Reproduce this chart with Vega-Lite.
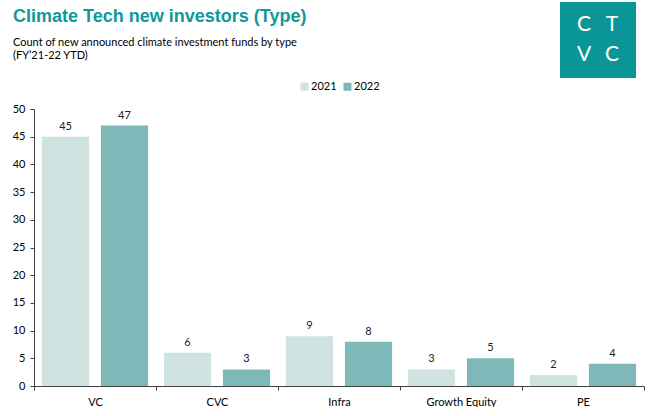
{
  "$schema": "https://vega.github.io/schema/vega-lite/v6.json",
  "padding": {"left": 12, "top": 2, "right": 0, "bottom": 0},
  "background": "white",
  "spacing": 3,
  "resolve": {"scale": {"color": "independent"}, "legend": {"color": "independent"}},
  "vconcat": [
    {
      "spacing": 0,
      "hconcat": [
        {
          "width": 526,
          "height": 6,
          "data": {"values": []},
          "mark": {"type": "point"},
          "title": {
            "text": "Climate Tech new investors (Type)",
            "subtitle": ["Count of new announced climate investment funds by type", "(FY’21-22 YTD)"],
            "orient": "bottom",
            "anchor": "start",
            "offset": 0,
            "dx": -21,
            "font": "Liberation Sans",
            "fontSize": 18,
            "fontWeight": "bold",
            "color": "#0d9a98",
            "subtitleFont": "Lato",
            "subtitleFontSize": 11,
            "subtitleColor": "#000000",
            "subtitleLineHeight": 13,
            "subtitlePadding": 11
          }
        },
        {
          "width": 76,
          "height": 76,
          "view": {"fill": "#0a9696", "stroke": null},
          "data": {"values": [
            {"letter": "C", "col": "1", "row": "1"},
            {"letter": "T", "col": "2", "row": "1"},
            {"letter": "V", "col": "1", "row": "2"},
            {"letter": "C", "col": "2", "row": "2"}
          ]},
          "mark": {"type": "text", "font": "Lato", "fontSize": 21, "fontWeight": 400, "color": "white", "baseline": "middle", "align": "center"},
          "encoding": {
            "x": {"field": "col", "type": "ordinal", "axis": null, "scale": {"type": "point", "padding": 0.857}},
            "y": {"field": "row", "type": "ordinal", "axis": null, "scale": {"type": "point", "padding": 0.77}},
            "text": {"field": "letter"}
          }
        }
      ]
    },
    {
      "width": 610,
      "height": 277,
      "data": {"values": [
        {"type": "VC", "year": "2021", "count": 45},
        {"type": "VC", "year": "2022", "count": 47},
        {"type": "CVC", "year": "2021", "count": 6},
        {"type": "CVC", "year": "2022", "count": 3},
        {"type": "Infra", "year": "2021", "count": 9},
        {"type": "Infra", "year": "2022", "count": 8},
        {"type": "Growth Equity", "year": "2021", "count": 3},
        {"type": "Growth Equity", "year": "2022", "count": 5},
        {"type": "PE", "year": "2021", "count": 2},
        {"type": "PE", "year": "2022", "count": 4}
      ]},
      "encoding": {
        "x": {
          "field": "type", "type": "nominal",
          "sort": ["VC", "CVC", "Infra", "Growth Equity", "PE"],
          "scale": {"paddingInner": 0, "paddingOuter": 0},
          "axis": {
            "title": null, "labelAngle": 0, "tickBand": "extent",
            "domainColor": "#404040", "tickColor": "#404040", "tickSize": 4,
            "labelFont": "Lato", "labelFontSize": 11, "labelColor": "#000000", "labelPadding": 6
          }
        },
        "xOffset": {"field": "year", "type": "nominal", "scale": {"paddingInner": 0.2, "paddingOuter": 0.134}},
        "y": {
          "field": "count", "type": "quantitative",
          "scale": {"domain": [0, 50], "nice": false},
          "axis": {
            "title": null, "grid": false, "values": [0, 5, 10, 15, 20, 25, 30, 35, 40, 45, 50],
            "domainColor": "#404040", "tickColor": "#404040", "tickSize": 4,
            "labelFont": "Lato", "labelFontSize": 11, "labelColor": "#000000", "labelPadding": 5
          }
        }
      },
      "layer": [
        {
          "mark": {"type": "bar"},
          "encoding": {
            "color": {
              "field": "year", "type": "nominal",
              "scale": {"domain": ["2021", "2022"], "range": ["#cfe3e0", "#7eb8b8"]},
              "legend": {
                "title": null, "orient": "top", "direction": "horizontal",
                "symbolType": "square", "symbolSize": 64, "symbolStrokeWidth": 0,
                "labelFont": "Lato", "labelFontSize": 11, "labelColor": "#000000",
                "labelOffset": 1, "columnPadding": 5, "padding": 0, "offset": 17
              }
            }
          }
        },
        {
          "mark": {"type": "text", "dy": -7, "baseline": "alphabetic", "font": "Lato", "fontSize": 11, "color": "#222222"},
          "encoding": {"text": {"field": "count", "type": "quantitative"}}
        }
      ]
    }
  ],
  "config": {
    "view": {"stroke": null},
    "legend": {"layout": {"top": {"anchor": "middle"}}}
  }
}
